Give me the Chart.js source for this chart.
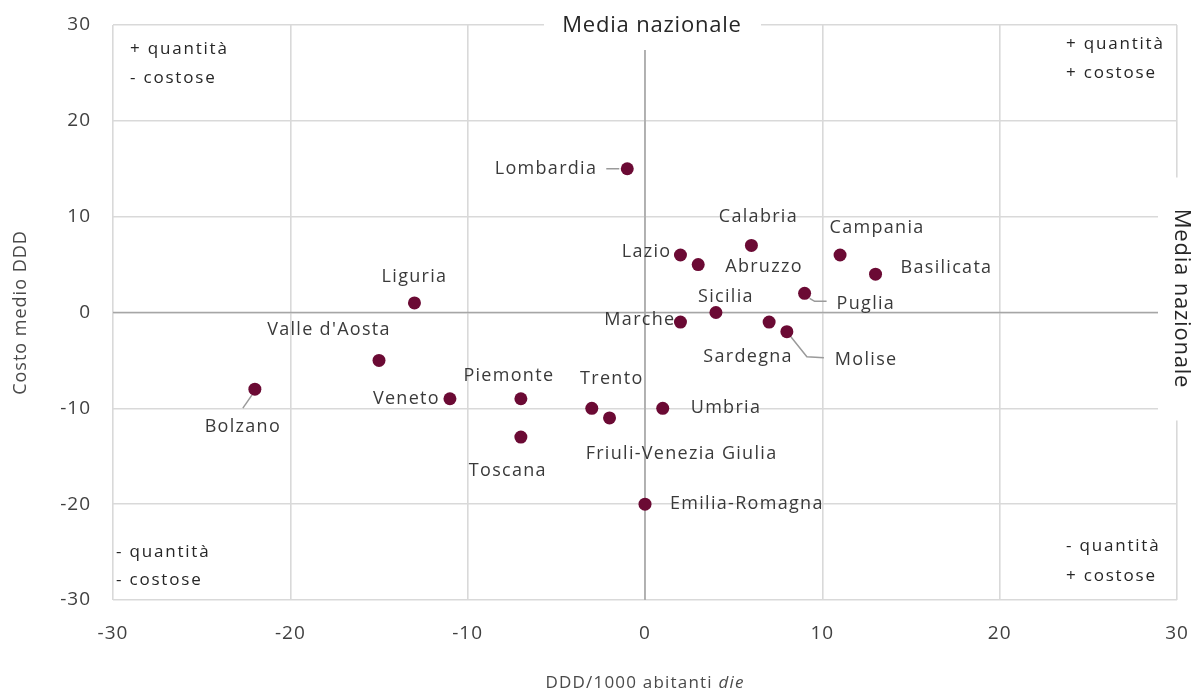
<!DOCTYPE html>
<html>
<head>
<meta charset="utf-8">
<script src="https://cdn.jsdelivr.net/npm/chart.js@4.4.0/dist/chart.umd.min.js"></script>
<style>
  html, body { margin: 0; padding: 0; background: #ffffff; }
  #wrap { width: 1192px; height: 693px; position: relative; }
</style>
</head>
<body>
<div id="wrap"><canvas id="c" width="1192" height="693"></canvas></div>
<script>
// ---- Data ----
const regions = ['Lombardia','Calabria','Campania','Basilicata','Lazio','Abruzzo','Puglia','Sicilia','Marche','Sardegna','Molise','Liguria',"Valle d'Aosta",'Bolzano','Veneto','Piemonte','Toscana','Trento','Friuli-Venezia Giulia','Umbria','Emilia-Romagna'];
const dddDiff  = [-1, 6, 11, 13, 2, 3, 9, 4, 2, 7, 8, -13, -15, -22, -11, -7, -7, -3, -2, 1, 0];
const costDiff = [15, 7, 6, 4, 6, 5, 2, 0, -1, -1, -2, 1, -5, -8, -9, -9, -13, -10, -11, -10, -20];
const xTicks = [-30, -20, -10, 0, 10, 20, 30];
const yTicks = [-30, -20, -10, 0, 10, 20, 30];
const quadrantTexts = {
  topLeft: ['+ quantità', '- costose'],
  topRight: ['+ quantità', '+ costose'],
  bottomLeft: ['- quantità', '- costose'],
  bottomRight: ['- quantità', '+ costose']
};
const avgLabel = 'Media nazionale';
const yTitle = 'Costo medio DDD';
const xTitleMain = 'DDD/1000 abitanti ';
const xTitleItalic = 'die';

// ---- Label layout (pixel offsets from marker) ----
const labelLayout = {
  'Lombardia': {dx: -30, dy: 0, align: 'right', leader: [[-21,0],[-8,0]]},
  'Calabria': {dx: 7, dy: -29, align: 'center'},
  'Campania': {dx: 37, dy: -27, align: 'center'},
  'Basilicata': {dx: 25, dy: -6, align: 'left'},
  'Lazio': {dx: -9, dy: -3, align: 'right'},
  'Abruzzo': {dx: 27, dy: 2, align: 'left'},
  'Puglia': {dx: 32, dy: 11, align: 'left', leader: [[5,5],[10,8],[22,8]]},
  'Sicilia': {dx: 10, dy: -16, align: 'center'},
  'Marche': {dx: -5, dy: -2, align: 'right'},
  'Sardegna': {dx: -21, dy: 35, align: 'center'},
  'Molise': {dx: 48, dy: 28, align: 'left', leader: [[4,5],[20,25],[37,26]]},
  'Liguria': {dx: 0, dy: -26, align: 'center'},
  "Valle d'Aosta": {dx: -50, dy: -31, align: 'center'},
  'Bolzano': {dx: -12, dy: 38, align: 'center', leader: [[-3,6],[-12,19]]},
  'Veneto': {dx: -10, dy: 0, align: 'right'},
  'Piemonte': {dx: -12, dy: -23, align: 'center'},
  'Toscana': {dx: -13, dy: 34, align: 'center'},
  'Trento': {dx: 20, dy: -29, align: 'center'},
  'Friuli-Venezia Giulia': {dx: 72, dy: 36, align: 'center'},
  'Umbria': {dx: 28, dy: 0, align: 'left'},
  'Emilia-Romagna': {dx: 25, dy: 0, align: 'left'}
};

const FONT = '"Open Sans", "Liberation Sans", sans-serif';
const GRID = '#d9d9d9';
const AXISLINE = '#a6a6a6';
const TEXT = '#3a3a3a';
const MARKER = '#6b0a34';

const points = regions.map((r, i) => ({x: dddDiff[i], y: costDiff[i], name: r}));

const overlayPlugin = {
  id: 'overlay',
  beforeDraw(chart) {
    chart.ctx.letterSpacing = '1px';
  },
  beforeDatasetsDraw(chart) {
    const {ctx, chartArea: a, scales: {x, y}} = chart;
    ctx.save();
    ctx.strokeStyle = AXISLINE;
    ctx.lineWidth = 1.6;
    const x0 = x.getPixelForValue(0), y0 = y.getPixelForValue(0);
    ctx.beginPath();
    ctx.moveTo(x0, a.top); ctx.lineTo(x0, a.bottom);
    ctx.moveTo(a.left, y0); ctx.lineTo(a.right, y0);
    ctx.stroke();
    // leader lines
    ctx.strokeStyle = '#9a9a9a';
    ctx.lineWidth = 1.5;
    const meta = chart.getDatasetMeta(0);
    meta.data.forEach((el, i) => {
      const lay = labelLayout[regions[i]];
      if (lay && lay.leader) {
        ctx.beginPath();
        lay.leader.forEach((p, k) => {
          if (k === 0) ctx.moveTo(el.x + p[0], el.y + p[1]);
          else ctx.lineTo(el.x + p[0], el.y + p[1]);
        });
        ctx.stroke();
      }
    });
    ctx.restore();
  },
  afterDraw(chart) {
    const {ctx, chartArea: a, scales: {x, y}} = chart;
    ctx.save();
    // data labels
    ctx.fillStyle = TEXT;
    ctx.font = '18px ' + FONT;
    ctx.letterSpacing = '1.3px';
    ctx.textBaseline = 'middle';
    const meta = chart.getDatasetMeta(0);
    meta.data.forEach((el, i) => {
      const lay = labelLayout[regions[i]] || {dx: 10, dy: 0, align: 'left'};
      ctx.textAlign = lay.align;
      ctx.fillText(regions[i], el.x + lay.dx, el.y + lay.dy);
    });
    // quadrant texts
    ctx.font = '17px ' + FONT;
    ctx.letterSpacing = '1.8px';
    ctx.fillStyle = '#262626';
    ctx.textAlign = 'left';
    ctx.fillText(quadrantTexts.topLeft[0], a.left + 17, a.top + 24);
    ctx.fillText(quadrantTexts.topLeft[1], a.left + 17, a.top + 53);
    ctx.fillText(quadrantTexts.topRight[0], a.right - 111, a.top + 19);
    ctx.fillText(quadrantTexts.topRight[1], a.right - 111, a.top + 48);
    ctx.fillText(quadrantTexts.bottomLeft[0], a.left + 3, a.bottom - 48);
    ctx.fillText(quadrantTexts.bottomLeft[1], a.left + 3, a.bottom - 20);
    ctx.fillText(quadrantTexts.bottomRight[0], a.right - 111, a.bottom - 54);
    ctx.fillText(quadrantTexts.bottomRight[1], a.right - 111, a.bottom - 24);
    // "Media nazionale" boxes
    const x0 = x.getPixelForValue(0), y0 = y.getPixelForValue(0);
    ctx.fillStyle = '#ffffff';
    ctx.fillRect(x0 - 101, 0, 217, a.top + 25);
    ctx.fillRect(a.right - 19, y0 - 135, 40, 243);
    ctx.fillStyle = '#262626';
    ctx.font = '22px ' + FONT;
    ctx.letterSpacing = '0.8px';
    ctx.textAlign = 'center';
    ctx.fillText(avgLabel, x0 + 7, a.top + 1);
    ctx.save();
    ctx.translate(a.right + 4, y0 - 14);
    ctx.rotate(Math.PI / 2);
    ctx.fillText(avgLabel, 0, 0);
    ctx.restore();
    // x title with italic part
    ctx.fillStyle = '#4a4a4a';
    ctx.textAlign = 'left';
    ctx.letterSpacing = '1.2px';
    ctx.font = '17px ' + FONT;
    const w1 = ctx.measureText(xTitleMain).width;
    ctx.font = 'italic 17px ' + FONT;
    const w2 = ctx.measureText(xTitleItalic).width;
    const startX = (a.left + a.right) / 2 - (w1 + w2) / 2;
    ctx.font = '17px ' + FONT;
    ctx.fillText(xTitleMain, startX, 683);
    ctx.font = 'italic 17px ' + FONT;
    ctx.fillText(xTitleItalic, startX + w1, 683);
    ctx.restore();
  }
};

new Chart(document.getElementById('c'), {
  type: 'scatter',
  data: {
    datasets: [{
      label: 'Regioni',
      data: points,
      backgroundColor: MARKER,
      borderColor: MARKER,
      borderWidth: 0,
      pointRadius: 6.5,
      pointHoverRadius: 6.5
    }]
  },
  options: {
    responsive: false,
    animation: false,
    events: [],
    layout: { padding: { top: 25, right: 15, left: 0, bottom: 0 } },
    plugins: { legend: { display: false }, tooltip: { enabled: false } },
    scales: {
      x: {
        type: 'linear', min: -30, max: 30,
        afterBuildTicks(s) { s.ticks = xTicks.map(v => ({value: v})); },
        afterFit(s) { s.height = 93; s.paddingLeft = 0; s.paddingRight = 0; },
        grid: { color: GRID, lineWidth: 1.6, drawTicks: false },
        border: { display: false },
        ticks: { color: '#404040', font: { family: FONT, size: 19 }, padding: 22, maxRotation: 0 }
      },
      y: {
        type: 'linear', min: -30, max: 30,
        afterBuildTicks(s) { s.ticks = yTicks.map(v => ({value: v})); },
        afterFit(s) { s.width = 113; s.paddingTop = 0; s.paddingBottom = 0; },
        grid: { color: GRID, lineWidth: 1.6, drawTicks: false },
        border: { display: false },
        ticks: { color: '#404040', font: { family: FONT, size: 19 }, padding: 22 },
        title: { display: true, text: yTitle, color: '#4a4a4a', font: { family: FONT, size: 18 }, padding: { top: 10, bottom: 0 } }
      }
    }
  },
  plugins: [overlayPlugin]
});
</script>
</body>
</html>
